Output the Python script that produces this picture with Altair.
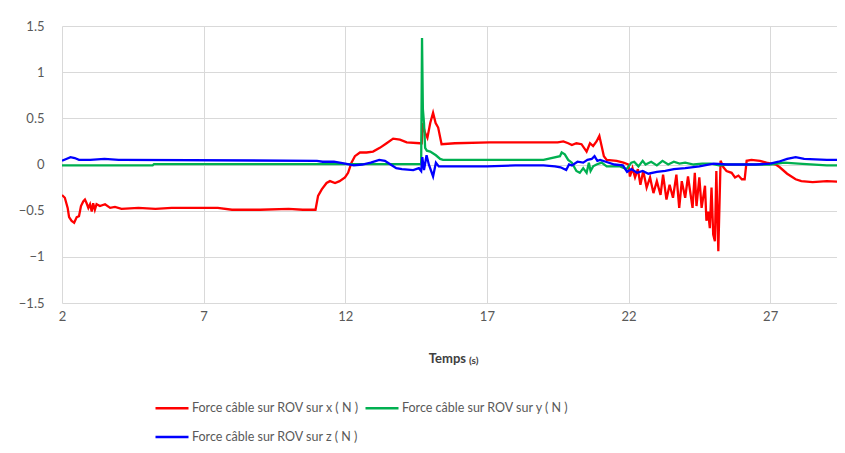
import altair as alt
import pandas as pd

# ---------------- data ----------------
red_t = [2.0, 2.1, 2.2, 2.25, 2.34, 2.43, 2.52, 2.6, 2.67, 2.75, 2.81, 2.87, 2.93, 2.99,
         3.05, 3.1, 3.16, 3.22, 3.34, 3.52, 3.7, 3.87, 4.1, 4.7, 5.3, 5.87, 6.5, 7.5, 8.0,
         9.0, 10.0, 10.5, 10.95, 11.04, 11.17, 11.34, 11.46, 11.64, 11.8, 11.99, 12.1,
         12.22, 12.34, 12.52, 12.75, 12.98, 13.22, 13.46, 13.69, 13.93, 14.17, 14.64, 14.7,
         14.73, 14.81, 14.9, 15.0, 15.1, 15.19, 15.28, 15.4, 15.87, 17.1, 18.87, 19.5, 19.7,
         19.87, 20.0, 20.16, 20.34, 20.52, 20.64, 20.75, 20.87, 20.97, 21.05, 21.13, 21.23,
         21.58, 21.82, 22.0, 22.05, 22.14, 22.23, 22.33, 22.42, 22.52, 22.64, 22.76, 22.88,
         23.0, 23.13, 23.22, 23.34, 23.45, 23.57, 23.69, 23.79, 23.88, 24.0, 24.1, 24.26,
         24.34, 24.4, 24.5, 24.58, 24.7, 24.75, 24.81, 24.87, 24.93, 24.99, 25.05, 25.1,
         25.17, 25.25, 25.35, 25.46, 25.64, 25.76, 25.88, 26.0, 26.1, 26.17, 26.34, 26.64,
         26.87, 27.2, 27.34, 27.6, 27.9, 28.1, 28.5, 29.0, 29.64]
red_v = [-0.33, -0.36, -0.47, -0.57, -0.61, -0.63, -0.57, -0.56, -0.45, -0.40, -0.38, -0.42,
         -0.47, -0.43, -0.51, -0.42, -0.49, -0.43, -0.45, -0.43, -0.47, -0.46, -0.48, -0.47,
         -0.48, -0.47, -0.47, -0.47, -0.49, -0.49, -0.48, -0.49, -0.49, -0.34, -0.27, -0.20,
         -0.18, -0.20, -0.18, -0.14, -0.09, 0.02, 0.09, 0.13, 0.13, 0.14, 0.18, 0.23, 0.28,
         0.27, 0.24, 0.23, 0.23, 0.45, 0.35, 0.29, 0.45, 0.56, 0.45, 0.40, 0.22, 0.23, 0.24,
         0.24, 0.24, 0.25, 0.23, 0.21, 0.23, 0.22, 0.14, 0.23, 0.20, 0.25, 0.31, 0.20, 0.09,
         0.05, 0.04, 0.02, 0.0, -0.13, -0.04, -0.14, -0.05, -0.22, -0.07, -0.25, -0.14, -0.31,
         -0.18, -0.33, -0.11, -0.38, -0.22, -0.36, -0.11, -0.47, -0.18, -0.36, -0.13, -0.47,
         -0.09, -0.45, -0.14, -0.47, -0.23, -0.61, -0.51, -0.69, -0.25, -0.76, -0.83, -0.07,
         -0.94, 0.04, -0.03, -0.07, -0.09, -0.14, -0.12, -0.16, -0.16, 0.04, 0.05, 0.04, 0.02,
         0.0, -0.03, -0.10, -0.16, -0.18, -0.19, -0.18, -0.19]

green_t = [2.0, 5.2, 5.25, 14.68, 14.71, 14.74, 14.78, 14.82, 14.88, 15.0, 15.2, 15.35, 15.45,
           17.0, 19.0, 19.58, 19.64, 19.75, 19.87, 20.0, 20.16, 20.28, 20.4, 20.52, 20.6, 20.66,
           20.75, 20.87, 21.05, 21.23, 21.7, 21.93, 22.1, 22.2, 22.35, 22.5, 22.6, 22.8, 23.0,
           23.2, 23.4, 23.6, 23.8, 24.0, 24.3, 24.6, 24.9, 25.2, 25.5, 26.0, 27.0, 27.5, 28.0,
           29.0, 29.64]
green_v = [-0.01, -0.01, 0.005, 0.005, 1.37, 0.6, 0.45, 0.18, 0.15, 0.14, 0.1, 0.06, 0.05,
           0.05, 0.05, 0.09, 0.13, 0.11, 0.05, 0.02, -0.07, -0.09, -0.04, -0.09, 0.02, -0.07,
           -0.02, 0.0, 0.02, -0.02, -0.02, -0.05, 0.02, 0.03, -0.02, 0.04, 0.0, 0.03, -0.01,
           0.04, 0.0, 0.03, 0.01, 0.02, 0.0, 0.01, 0.01, -0.01, 0.0, 0.0, 0.0, 0.02, 0.01,
           -0.01, -0.01]

blue_t = [2.0, 2.15, 2.3, 2.45, 2.6, 3.0, 3.5, 4.0, 4.2, 11.0, 11.2, 11.6, 12.0, 12.3, 12.6,
          12.9, 13.2, 13.4, 13.6, 13.8, 14.0, 14.4, 14.6, 14.68, 14.72, 14.78, 14.87, 14.95,
          15.1, 15.2, 15.3, 16.0, 17.0, 18.0, 19.0, 19.4, 19.6, 19.8, 19.9, 20.0, 20.2, 20.4,
          20.55, 20.7, 20.8, 20.9, 21.0, 21.2, 21.5, 21.8, 21.95, 22.1, 22.3, 22.5, 22.7, 23.0,
          23.3, 23.6, 24.0, 24.5, 25.0, 25.5, 26.0, 26.5, 27.0, 27.3, 27.6, 27.9, 28.2, 29.0,
          29.64]
blue_v = [0.04, 0.06, 0.08, 0.07, 0.05, 0.05, 0.06, 0.05, 0.05, 0.04, 0.03, 0.03, 0.01, -0.01,
          0.0, 0.02, 0.05, 0.04, 0.0, -0.04, -0.05, -0.06, -0.04, -0.07, 0.08, -0.06, 0.10,
          0.0, -0.13, 0.02, -0.02, -0.02, -0.02, -0.01, -0.01, -0.02, -0.03, -0.06, 0.0, -0.01,
          0.03, 0.02, 0.05, 0.06, 0.09, 0.04, 0.05, 0.03, 0.0, -0.01, -0.08, -0.05, -0.09,
          -0.07, -0.10, -0.08, -0.07, -0.05, -0.04, -0.02, 0.01, 0.0, 0.0, 0.0, 0.01, 0.03,
          0.06, 0.08, 0.06, 0.05, 0.05]

series_names = ["Force câble sur ROV sur x ( N )",
                "Force câble sur ROV sur y ( N )",
                "Force câble sur ROV sur z ( N )"]
series_colors = ["#ff0000", "#00b050", "#0000ff"]
x_ticks = [2, 7, 12, 17, 22, 27]
y_ticks = [-1.5, -1, -0.5, 0, 0.5, 1, 1.5]
x_domain = [2, 29.36]

assert len(red_t) == len(red_v)
assert len(green_t) == len(green_v)
assert len(blue_t) == len(blue_v)

rows = []
for name, ts, vs in zip(series_names, [red_t, green_t, blue_t], [red_v, green_v, blue_v]):
    for i, (t, v) in enumerate(zip(ts, vs)):
        rows.append({"t": t, "v": v, "serie": name, "i": i})
df = pd.DataFrame(rows)

FONT = "Lato"
GRAY = "#595959"

lines = alt.Chart(df).mark_line(strokeWidth=2.3, clip=True).encode(
    x=alt.X("t:Q", scale=alt.Scale(domain=x_domain, nice=False, zero=False),
            axis=alt.Axis(values=x_ticks, title=None, grid=True, gridColor="#d9d9d9",
                          domain=False, ticks=False, labelPadding=7, labelFontSize=13,
                          labelColor=GRAY, labelFont=FONT, labelFlush=False)),
    y=alt.Y("v:Q", scale=alt.Scale(domain=[-1.5, 1.5], nice=False),
            axis=alt.Axis(values=y_ticks, title=None, grid=True, gridColor="#d9d9d9",
                          domain=False, ticks=False, labelPadding=18, labelFontSize=13,
                          labelColor=GRAY, labelFont=FONT, format="~g")),
    color=alt.Color("serie:N", scale=alt.Scale(domain=series_names, range=series_colors),
                    legend=alt.Legend(title=None, orient="none", legendX=92, legendY=364,
                                      direction="horizontal",
                                      columns=2, symbolType="stroke", symbolSize=1089,
                                      symbolStrokeWidth=2.5, labelFontSize=12.5,
                                      labelColor=GRAY, labelFont=FONT, labelOffset=2,
                                      columnPadding=1, rowPadding=4, labelLimit=400)),
    order="i:Q",
)

title1 = alt.Chart(pd.DataFrame({"s": ["Temps"]})).mark_text(
    align="right", baseline="middle", fontSize=13, fontWeight="bold", font=FONT, color="#404040"
).encode(text="s:N", x=alt.value(404), y=alt.value(333))
title2 = alt.Chart(pd.DataFrame({"s": ["(s)"]})).mark_text(
    align="left", baseline="middle", fontSize=10, fontWeight="bold", font=FONT, color="#404040"
).encode(text="s:N", x=alt.value(407), y=alt.value(335))

chart = alt.layer(lines, title1, title2).properties(
    width=775, height=277,
    autosize=alt.AutoSizeParams(type="none"),
    padding={"left": 54, "top": 18, "right": 0, "bottom": 142},
).configure_view(stroke=None)

chart.save("out.html", embed_options={"renderer": "svg", "actions": False})
